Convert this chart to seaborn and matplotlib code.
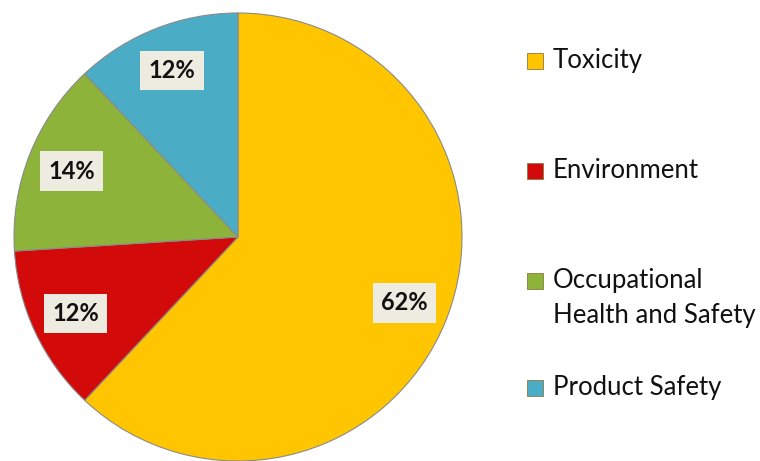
import matplotlib.pyplot as plt
import seaborn as sns
from matplotlib.patches import Rectangle

categories = ["Toxicity", "Environment", "Occupational\nHealth and Safety", "Product Safety"]
shares = [62, 12, 14, 12]
colors = ["#FFC600", "#D20A0A", "#8DB33A", "#4BACC6"]

# legend row positions, pixels from the top of the figure
legend_rows = [61, 171, 281, 388]

sns.set_theme(style="white")
plt.rcParams["font.family"] = ["Lato", "DejaVu Sans"]

W, H = 760, 461
fig = plt.figure(figsize=(W / 100, H / 100), dpi=100)
ax = fig.add_axes([14 / W, 0, 448 / W, 448 / H])

wedges, texts, autotexts = ax.pie(
    shares,
    colors=colors,
    startangle=90,
    counterclock=False,
    autopct="%d%%",
    pctdistance=0.8,
    wedgeprops={"linewidth": 0.8, "edgecolor": "#8a8a8a"},
    textprops={"fontsize": 17, "fontweight": "bold", "color": "#111111"},
)
for t in autotexts:
    t.set_bbox({"facecolor": "#EEECE1", "edgecolor": "none", "pad": 6})
ax.set_xlim(-1, 1)
ax.set_ylim(-1, 1)
ax.set_aspect("equal")
ax.axis("off")

# legend drawn by hand so the rows sit where the reference puts them
for label, color, y in zip(categories, colors, legend_rows):
    fig.add_artist(
        Rectangle(
            (527 / W, 1 - (y + 8) / H),
            16 / W,
            16 / H,
            facecolor=color,
            edgecolor="#8a7a40",
            linewidth=0.6,
            transform=fig.transFigure,
        )
    )
    n_lines = label.count("\n") + 1
    fig.text(
        553 / W,
        1 - (y - 13) / H,
        label,
        va="top",
        ha="left",
        fontsize=18.5,
        color="#111111",
        linespacing=1.5 if n_lines > 1 else 1.0,
    )

fig.savefig("out.png", dpi=100)
